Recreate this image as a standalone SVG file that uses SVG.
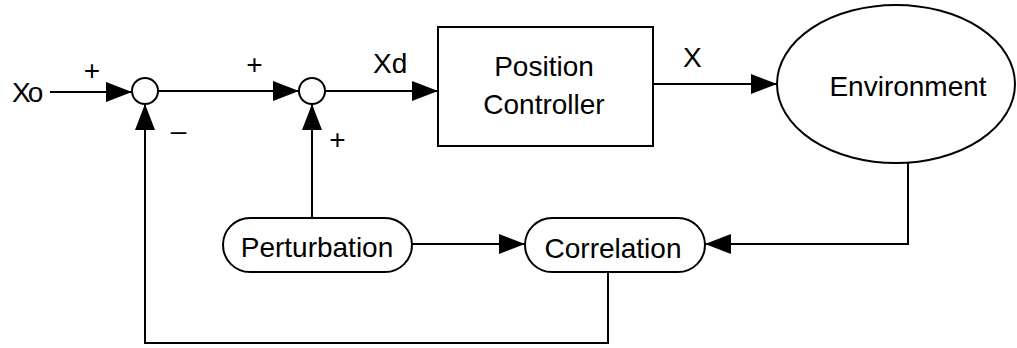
<svg xmlns="http://www.w3.org/2000/svg" width="1017" height="348" viewBox="0 0 1017 348">
<style>
.s{fill:none;stroke:#000;stroke-width:2}
.t{font-family:"Liberation Sans",Arial,sans-serif;font-size:28px;fill:#000}
.m{text-anchor:middle}
</style>
<defs>
<marker id="ah" markerUnits="userSpaceOnUse" markerWidth="26" markerHeight="20" refX="26" refY="10" orient="auto">
<path d="M0,0 L26,10 L0,20 Z" fill="#000"/>
</marker>
</defs>
<rect width="1017" height="348" fill="#fff"/>
<g id="connectors" class="s">
<path d="M50,92 H132" marker-end="url(#ah)"/>
<path d="M158,91 H299" marker-end="url(#ah)"/>
<path d="M325,91 H438" marker-end="url(#ah)"/>
<path d="M653,84 H777" marker-end="url(#ah)"/>
<path d="M908,163 V244 H705" marker-end="url(#ah)"/>
<path d="M412,244 H525" marker-end="url(#ah)"/>
<path d="M312,218 V104" marker-end="url(#ah)"/>
<path d="M608,272 V343 H145 V104" marker-end="url(#ah)"/>
</g>
<g id="input"><text class="t" x="12" y="102" letter-spacing="-3">Xo</text></g>
<g id="sum1"><circle class="s" cx="145" cy="91" r="13"/></g>
<g id="sum2"><circle class="s" cx="312" cy="91" r="13"/></g>
<g id="controller">
<rect class="s" x="438" y="27" width="215" height="119"/>
<text class="t m" x="544" y="76">Position</text>
<text class="t m" x="544" y="114">Controller</text>
</g>
<g id="environment">
<ellipse class="s" cx="896" cy="84" rx="119" ry="79"/>
<text class="t m" x="908" y="96">Environment</text>
</g>
<g id="perturbation">
<rect class="s" x="223" y="218" width="189" height="54" rx="27" ry="27"/>
<text class="t m" x="317" y="257">Perturbation</text>
</g>
<g id="correlation">
<rect class="s" x="525" y="218" width="180" height="54" rx="27" ry="27"/>
<text class="t m" x="613" y="258">Correlation</text>
</g>
<g id="labels">
<text class="t" x="373" y="73">Xd</text>
<text class="t" x="683" y="67">X</text>
<text class="t m" x="92" y="80">+</text>
<text class="t m" x="254.5" y="74">+</text>
<text class="t m" x="337.5" y="149">+</text>
<text class="t m" x="178.5" y="140">–</text>
</g>
</svg>
